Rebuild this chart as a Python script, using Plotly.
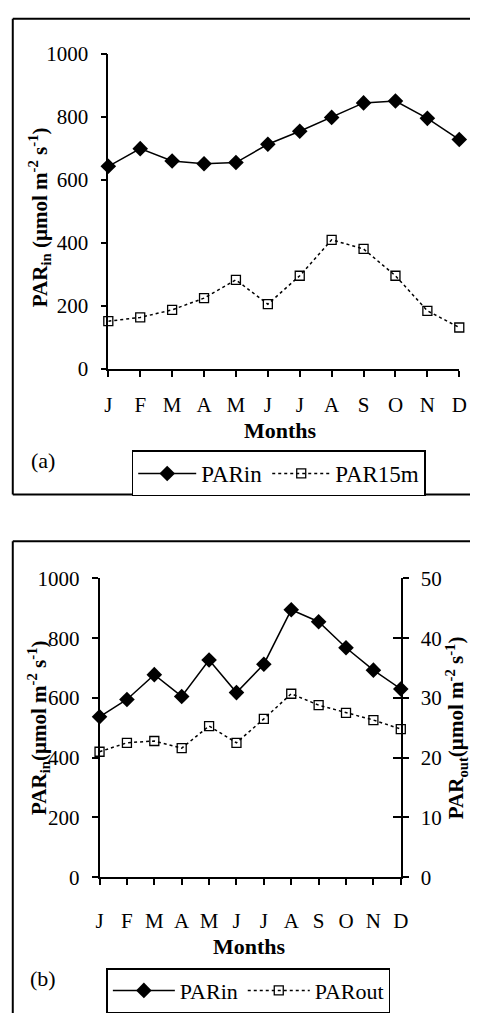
import plotly.graph_objects as go

months = ["J", "F", "M", "A", "M", "J", "J", "A", "S", "O", "N", "D"]
x_idx = list(range(12))

# Panel (a)
par_in_a = [643, 699, 660, 651, 655, 713, 754, 798, 844, 850, 795, 728]
par_15m_a = [152, 164, 188, 225, 283, 206, 296, 410, 381, 296, 185, 132]

# Panel (b)
par_in_b = [537, 595, 678, 605, 727, 618, 713, 895, 855, 768, 693, 630]
par_out_b = [21.0, 22.5, 22.8, 21.6, 25.3, 22.5, 26.5, 30.7, 28.8, 27.5, 26.3, 24.8]

W, H = 478, 1025
FONT = "Liberation Serif, Times New Roman, serif"

def px(v):
    return v / W

def py(v):
    return 1 - v / H

fig = go.Figure()

fig.add_trace(go.Scatter(x=x_idx, y=par_in_a, name="PARin", mode="lines+markers",
                         line=dict(color="black", width=1.5),
                         marker=dict(symbol="diamond", size=12, color="black"),
                         xaxis="x", yaxis="y", cliponaxis=False, legend="legend"))
fig.add_trace(go.Scatter(x=x_idx, y=par_15m_a, name="PAR15m", mode="lines+markers",
                         line=dict(color="black", width=1.5, dash="3px,3px"),
                         marker=dict(symbol="square-open", size=9, color="black",
                                     line=dict(width=1.3)),
                         xaxis="x", yaxis="y", cliponaxis=False, legend="legend"))

fig.add_trace(go.Scatter(x=x_idx, y=par_in_b, name="PARin", mode="lines+markers",
                         line=dict(color="black", width=1.5),
                         marker=dict(symbol="diamond", size=12, color="black"),
                         xaxis="x2", yaxis="y2", cliponaxis=False, legend="legend2"))
fig.add_trace(go.Scatter(x=x_idx, y=par_out_b, name="PARout", mode="lines+markers",
                         line=dict(color="black", width=1.5, dash="3px,3px"),
                         marker=dict(symbol="square-open", size=9, color="black",
                                     line=dict(width=1.3)),
                         xaxis="x2", yaxis="y3", cliponaxis=False, legend="legend2"))

tickfont = dict(family=FONT, size=21, color="black")
axcommon = dict(showgrid=False, zeroline=False, showline=True, linecolor="black",
                linewidth=1.5, ticks="outside", ticklen=6, tickcolor="black",
                tickwidth=1.5, tickfont=tickfont)

fig.update_layout(
    width=W, height=H,
    margin=dict(l=0, r=0, t=0, b=0),
    paper_bgcolor="white", plot_bgcolor="white",
    font=dict(family=FONT, color="black"),
    xaxis=dict(domain=[px(107), px(467)], range=[0, 11], anchor="y",
               tickvals=x_idx, ticktext=months, ticklabelstandoff=10, **axcommon),
    yaxis=dict(domain=[py(365.7), py(42.7)], range=[0, 1000], anchor="x",
               tickvals=[0, 200, 400, 600, 800, 1000], ticklabelstandoff=8, **axcommon),
    xaxis2=dict(domain=[px(98), px(407)], range=[0, 11], anchor="y2",
                tickvals=x_idx, ticktext=months, ticklabelstandoff=18, **axcommon),
    yaxis2=dict(domain=[py(886), py(580)], range=[0, 1000], anchor="x2",
                tickvals=[0, 200, 400, 600, 800, 1000], ticklabelstandoff=8, **axcommon),
    yaxis3=dict(range=[0, 50], overlaying="y2", side="right", anchor="x2",
                tickvals=[0, 10, 20, 30, 40, 50], ticklabelstandoff=8, **axcommon),
    yaxis4=dict(range=[0, 50], overlaying="y2", side="right", anchor="x2",
                showline=False, showgrid=False, zeroline=False, ticks="inside",
                ticklen=8, tickcolor="black", tickwidth=1.5, showticklabels=False,
                tickvals=[0, 10, 20, 30, 40, 50]),
    legend=dict(x=px(131), y=py(449), xanchor="left", yanchor="top",
                orientation="h", bordercolor="black", borderwidth=1.5,
                font=dict(family=FONT, size=23, color="black"),
                bgcolor="white", traceorder="normal", itemwidth=58),
    legend2=dict(x=px(105), y=py(979), xanchor="left", yanchor="top",
                 orientation="h", bordercolor="black", borderwidth=1.5,
                 font=dict(family=FONT, size=22, color="black"),
                 bgcolor="white", traceorder="normal", itemwidth=62),
    showlegend=True,
)

# invisible trace to activate yaxis4 (cross ticks on right axis)
fig.add_trace(go.Scatter(x=[None], y=[None], xaxis="x2", yaxis="y4",
                         showlegend=False, hoverinfo="skip"))

titlefont = dict(family=FONT, size=21, color="black")
ann = [
    dict(text="<b>Months</b>", x=px(284), y=py(429), font=dict(family=FONT, size=22, color="black")),
    dict(text="<b>Months</b>", x=px(252), y=py(957), font=dict(family=FONT, size=22, color="black")),
    dict(text="(a)", x=px(40), y=py(459), font=dict(family=FONT, size=22, color="black")),
    dict(text="(b)", x=px(40), y=py(990), font=dict(family=FONT, size=22, color="black")),
    dict(text="<b>PAR<sub>in</sub> (µmol m<sup>-2</sup> s<sup>-1</sup>)</b>", x=px(36), y=py(210),
         textangle=-90, font=titlefont),
    dict(text="<b>PAR<sub>in</sub>(µmol m<sup>-2</sup> s<sup>-1</sup>)</b>", x=px(36), y=py(733),
         textangle=-90, font=titlefont),
    dict(text="<b>PAR<sub>out</sub>(µmol m<sup>-2</sup> s<sup>-1</sup>)</b>", x=px(464), y=py(733),
         textangle=-90, font=titlefont),
]
for a in ann:
    a.update(xref="paper", yref="paper", showarrow=False, xanchor="center", yanchor="middle")
fig.update_layout(annotations=ann)

border = dict(color="black", width=2)
def seg(x0, y0, x1, y1):
    return dict(type="line", xref="paper", yref="paper", x0=px(x0), y0=py(y0),
                x1=px(x1), y1=py(y1), line=border, layer="below")

fig.update_layout(shapes=[
    seg(9, 7, 478, 7), seg(9, 7, 9, 494), seg(9, 494, 478, 494),
    seg(9, 542, 478, 542), seg(9, 542, 9, 1025),
])

fig.write_html("out.html", config={"displayModeBar": False},
               post_script="document.body.style.margin='0';document.body.style.overflow='hidden';")
